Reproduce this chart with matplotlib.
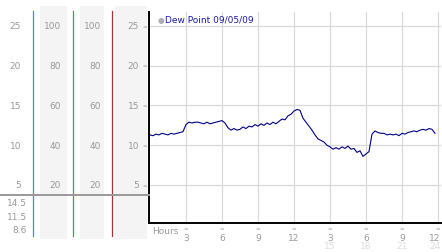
import numpy as np
import matplotlib.pyplot as plt

# dew point readings, one every 15 minutes (deg C)
dew = [11.3, 11.2, 11.4, 11.3, 11.5, 11.4, 11.3, 11.5, 11.4, 11.5, 11.6, 11.7,
       12.6, 12.9, 12.8, 12.9, 12.9, 12.8, 12.7, 12.9, 12.7, 12.8, 12.9, 13.0,
       13.1, 12.8, 12.2, 11.9, 12.1, 11.9, 12.0, 12.3, 12.1, 12.4, 12.3, 12.6,
       12.4, 12.7, 12.5, 12.8, 12.6, 12.9, 12.7, 13.0, 13.3, 13.2, 13.7, 13.9,
       14.3, 14.5, 14.4, 13.4, 12.9, 12.4, 11.9, 11.3, 10.8, 10.6, 10.4, 10.0,
       9.8, 9.5, 9.7, 9.5, 9.8, 9.6, 9.9, 9.5, 9.6, 9.1, 9.3, 8.6,
       8.9, 9.2, 11.4, 11.8, 11.6, 11.5, 11.5, 11.3, 11.4, 11.3, 11.4, 11.2,
       11.5, 11.4, 11.6, 11.7, 11.8, 11.7, 11.9, 12.0, 11.9, 12.1, 12.0, 11.5]
hours = np.arange(len(dew)) * 0.25

temp_ticks = [25, 20, 15, 10, 5]
hum_ticks = [100, 80, 60, 40, 20]
stats = ['14.5', '11.5', '8.6']
hour_ticks = [3, 6, 9, 12, 15, 18, 21, 24]
hour_labels = ['3', '6', '9', '12', '3', '6', '9', '12']
hour_labels2 = ['15', '18', '21', '24']
legend_label = 'Dew Point 09/05/09'

W, H = 442, 253
fig = plt.figure(figsize=(W / 100, H / 100), dpi=100)

# main plot, pixel box: x 149..441, y 13..224
ax = fig.add_axes([149 / W, (H - 224) / H, 292 / W, 211 / H])
ax.plot(hours, dew, color='#000088', lw=0.8)
ax.set_xlim(-0.08, 24.25)
ax.set_ylim(0.22, 26.76)
ax.set_xticks(hour_ticks)
ax.set_yticks(temp_ticks)
ax.grid(True, color='#d9d9d9', lw=0.9)
ax.tick_params(length=0, labelbottom=False, labelleft=False)
for s in ['top', 'right']:
    ax.spines[s].set_visible(False)
for s in ['left', 'bottom']:
    ax.spines[s].set_linewidth(1.4)

grey = '#999999'
fs = 6.5


def ay(py):
    # pixel row to axes fraction of the main plot
    return (224 - py) / 211


def place(h):
    # last label sits against the right edge
    if h == hour_ticks[-1]:
        return 24.22, 'right'
    return h, 'center'


# x labels
xt = ax.get_xaxis_transform()
for h, lab in zip(hour_ticks, hour_labels):
    ax.text(h, ay(229), u'\u2248', transform=xt, ha='center', va='center',
            fontsize=4, color='#aaaaaa', clip_on=False)
    x, ha = place(h)
    ax.text(x, ay(238.5), lab, transform=xt, ha=ha, va='center',
            fontsize=fs, color=grey, clip_on=False)
for h, lab in zip(hour_ticks[4:], hour_labels2):
    x, ha = place(h)
    ax.text(x, ay(247), lab, transform=xt, ha=ha, va='center',
            fontsize=fs, color='#dddddd', clip_on=False)
ax.text(0.2, ay(232), 'Hours', transform=xt, ha='left', va='center',
        fontsize=fs, color=grey, clip_on=False)

# legend
fig.text(161 / W, 1 - 20 / H, u'\u25cf', color='#b0b0b0', fontsize=5.5,
         ha='center', va='center')
fig.text(165 / W, 1 - 20 / H, legend_label, color='#1a1aa8', fontsize=6.5,
         ha='left', va='center')

# left panel shares the y scale of the main plot, x in pixels
lp = fig.add_axes([0, (H - 224) / H, 149 / W, 211 / H], sharey=ax)
lp.set_xlim(0, 149)
lp.axis('off')


def pv(py):
    # pixel row to value on the shared y scale
    return 5 - (py - 186) / 7.95


for x0, x1 in [(40, 67), (80, 104), (115, 147)]:
    lp.fill_between([x0, x1], pv(240), pv(7), color='#f4f4f4', lw=0, clip_on=False)
for x, c in [(33, '#3399cc'), (73, '#33aa33'), (112, '#aa3333')]:
    lp.plot([x, x], [pv(237), pv(12)], color=c, lw=0.9, clip_on=False)
lp.plot([0, 149], [pv(196), pv(196)], color='#999999', lw=1.4, clip_on=False)

for t, hm in zip(temp_ticks, hum_ticks):
    lp.text(21, t, str(t), ha='right', va='center', fontsize=fs, color=grey)
    lp.text(61, t, str(hm), ha='right', va='center', fontsize=fs, color=grey)
    lp.text(101, t, str(hm), ha='right', va='center', fontsize=fs, color=grey)
    lp.text(139, t, str(t), ha='right', va='center', fontsize=fs, color=grey)
    lp.text(145, t, u'\u2248', ha='center', va='center', fontsize=4, color='#aaaaaa',
            clip_on=False)
for py, s in zip([204, 218, 231], stats):
    lp.text(27, pv(py), s, ha='right', va='center', fontsize=fs, color=grey,
            clip_on=False)

fig.savefig('out.png', dpi=100)
